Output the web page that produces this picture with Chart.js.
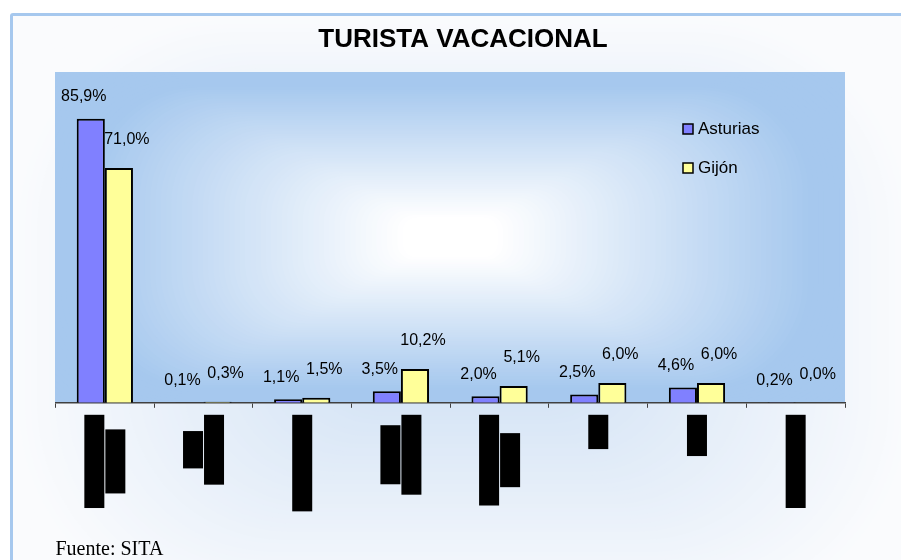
<!DOCTYPE html>
<html lang="es">
<head>
<meta charset="utf-8">
<title>Turista vacacional</title>
<script src="https://cdn.jsdelivr.net/npm/chart.js@4.4.1/dist/chart.umd.min.js"></script>
<style>
  html, body { margin: 0; padding: 0; background: #fff; overflow: hidden; width: 901px; height: 560px; }
  .frame { position: absolute; left: 10px; top: 13px; width: 920px; height: 600px; border: 3px solid #a6c8ee; border-radius: 3px; background: #f8fafd; }
  .chart-box { position: absolute; left: 0; top: 0; width: 900px; height: 552px; }
</style>
</head>
<body>
<div class="frame"><div class="chart-box"><canvas id="chart"></canvas></div></div>
<script>
// --- Data ---
// axis labels are blacked out in the source, these stand in for them
const categories = [
    ['Coche propio', 'alquilado'],
    ['Moto', 'y bicicleta'],
    ['Autocaravana'],
    ['Autobús', 'interurbano'],
    ['Excursión en', 'autocar'],
    ['Tren'],
    ['Avión'],
    ['Otros medios']
];
const seriesNames = ['Asturias', 'Gijón'];
const asturiasValues = [85.9, 0.1, 1.1, 3.5, 2.0, 2.5, 4.6, 0.2];
const gijonValues = [71.0, 0.3, 1.5, 10.2, 5.1, 6.0, 6.0, 0.0];

const SANS = '"Liberation Sans", Arial, sans-serif';
const SERIF = '"Liberation Serif", "Times New Roman", serif';

// --- Helpers ---
function mix(a, b, t) {
    return 'rgb(' + a.map((v, i) => Math.round(v + (b[i] - v) * t)).join(',') + ')';
}

// "from centre" gradient with softened rectangular rings
function rectGradient(ctx, area, cx, cy, hw, hh, colorAt) {
    const steps = 120;
    ctx.save();
    ctx.beginPath();
    ctx.rect(area.left, area.top, area.right - area.left, area.bottom - area.top);
    ctx.clip();
    ctx.fillStyle = colorAt(1.6);
    ctx.fillRect(area.left, area.top, area.right - area.left, area.bottom - area.top);
    for (let k = steps; k >= 0; k--) {
        const t = k / steps * 1.6;
        ctx.fillStyle = colorAt(t);
        ctx.beginPath();
        ctx.roundRect(cx - t * hw, cy - t * hh, 2 * t * hw, 2 * t * hh, t * Math.min(hw, hh) * 0.7);
        ctx.fill();
    }
    ctx.restore();
}

// --- Plugins ---
const backgroundPlugin = {
    id: 'backgroundFill',
    beforeDraw(chart) {
        const ctx = chart.ctx;
        const w = chart.width, h = chart.height;
        const outerCenter = [200, 220, 243], outerEdge = [250, 251, 253];
        rectGradient(ctx, { left: 0, top: 0, right: w, bottom: h }, w / 2, 300, w / 2, 300,
            t => mix(outerCenter, outerEdge, Math.min(1, t)));

        const a = chart.chartArea;
        const plotEdge = [166, 200, 238], plotCenter = [255, 255, 255];
        const cx = (a.left + a.right) / 2, cy = (a.top + a.bottom) / 2;
        rectGradient(ctx, a, cx, cy, (a.right - a.left) / 2, (a.bottom - a.top) / 2,
            t => mix(plotCenter, plotEdge, Math.max(0, Math.min(1, (t - 0.12) / 0.8))));
    }
};

const redactedLabels = {
    id: 'redactedLabels',
    afterDraw(chart) {
        const ctx = chart.ctx;
        const xScale = chart.scales.x;
        const lineStep = 21, thick = 20;
        ctx.save();
        ctx.font = '15px ' + SANS;
        chart.data.labels.forEach((label, i) => {
            const lines = Array.isArray(label) ? label : [label];
            const x = xScale.getPixelForTick(i);
            const top = xScale.top + 12;
            const lengths = lines.map(l => ctx.measureText(l).width + 4);
            const maxLen = Math.max(...lengths);
            lines.forEach((line, j) => {
                const bx = x + (j - (lines.length - 1) / 2) * lineStep;
                const by = top + (maxLen - lengths[j]) / 2;
                ctx.fillStyle = '#000';
                ctx.fillRect(bx - thick / 2, by, thick, lengths[j]);
                ctx.save();
                ctx.translate(bx, by + lengths[j] / 2);
                ctx.rotate(-Math.PI / 2);
                ctx.textAlign = 'center';
                ctx.textBaseline = 'middle';
                ctx.fillText(line, 0, 0);
                ctx.restore();
            });
        });
        ctx.restore();
    }
};

const valueLabels = {
    id: 'valueLabels',
    afterDatasetsDraw(chart, args, opts) {
        const ctx = chart.ctx;
        ctx.save();
        ctx.font = '16px ' + SANS;
        ctx.fillStyle = '#000';
        ctx.textAlign = 'center';
        ctx.textBaseline = 'middle';
        chart.data.datasets.forEach((ds, d) => {
            const off = opts.offsets[d];
            chart.getDatasetMeta(d).data.forEach((bar, i) => {
                const text = ds.data[i].toFixed(1).replace('.', ',') + '%';
                ctx.fillText(text, bar.x + off.x, bar.y - off.y);
            });
        });
        ctx.restore();
    }
};

const insideLegend = {
    id: 'insideLegend',
    afterDraw(chart) {
        const ctx = chart.ctx;
        const a = chart.chartArea;
        const x = a.right - 162;
        let y = a.top + 57;
        ctx.save();
        ctx.font = '17px ' + SANS;
        ctx.textBaseline = 'middle';
        chart.data.datasets.forEach(ds => {
            ctx.fillStyle = ds.backgroundColor;
            ctx.fillRect(x, y - 5, 10, 10);
            ctx.strokeStyle = '#000';
            ctx.lineWidth = 1.5;
            ctx.strokeRect(x, y - 5, 10, 10);
            ctx.fillStyle = '#000';
            ctx.fillText(ds.label, x + 15, y);
            y += 39;
        });
        ctx.restore();
    }
};

// --- Chart ---
const ctx = document.getElementById('chart').getContext('2d');
new Chart(ctx, {
    type: 'bar',
    data: {
        labels: categories,
        datasets: [{
            label: seriesNames[0],
            data: asturiasValues,
            backgroundColor: '#8080ff',
            borderColor: '#000',
            borderWidth: 2
        }, {
            label: seriesNames[1],
            data: gijonValues,
            backgroundColor: '#ffff99',
            borderColor: '#000',
            borderWidth: 2
        }]
    },
    options: {
        responsive: true,
        maintainAspectRatio: false,
        animation: false,
        layout: { padding: { left: 42.5, right: 42.5, top: 0, bottom: 0 } },
        datasets: { bar: { barPercentage: 1, categoryPercentage: 0.57 } },
        plugins: {
            legend: { display: false },
            tooltip: { enabled: false },
            title: {
                display: true,
                text: 'TURISTA VACACIONAL',
                color: '#000',
                font: { family: SANS, size: 26, weight: 'bold', lineHeight: 1.2 },
                padding: { top: 8, bottom: 16.8 }
            },
            subtitle: {
                display: true,
                position: 'bottom',
                align: 'start',
                text: 'Fuente: SITA',
                color: '#000',
                font: { family: SERIF, size: 20, lineHeight: 1.2 },
                padding: { top: 7, bottom: 6 }
            },
            valueLabels: { offsets: [{ x: -7, y: 22 }, { x: 8, y: 28 }] }
        },
        scales: {
            x: {
                grid: { offset: true, drawOnChartArea: false, tickLength: 5, color: '#404040', lineWidth: 1 },
                border: { color: '#404040', width: 1.5 },
                ticks: { display: false },
                afterFit: (scale) => { scale.height = 128.2; }
            },
            y: {
                position: 'right',
                min: 0,
                max: 100,
                grid: { display: false },
                border: { display: false },
                ticks: { display: false },
                afterFit: (scale) => { scale.width = 25.5; }
            }
        }
    },
    plugins: [backgroundPlugin, redactedLabels, valueLabels, insideLegend]
});
</script>
</body>
</html>
